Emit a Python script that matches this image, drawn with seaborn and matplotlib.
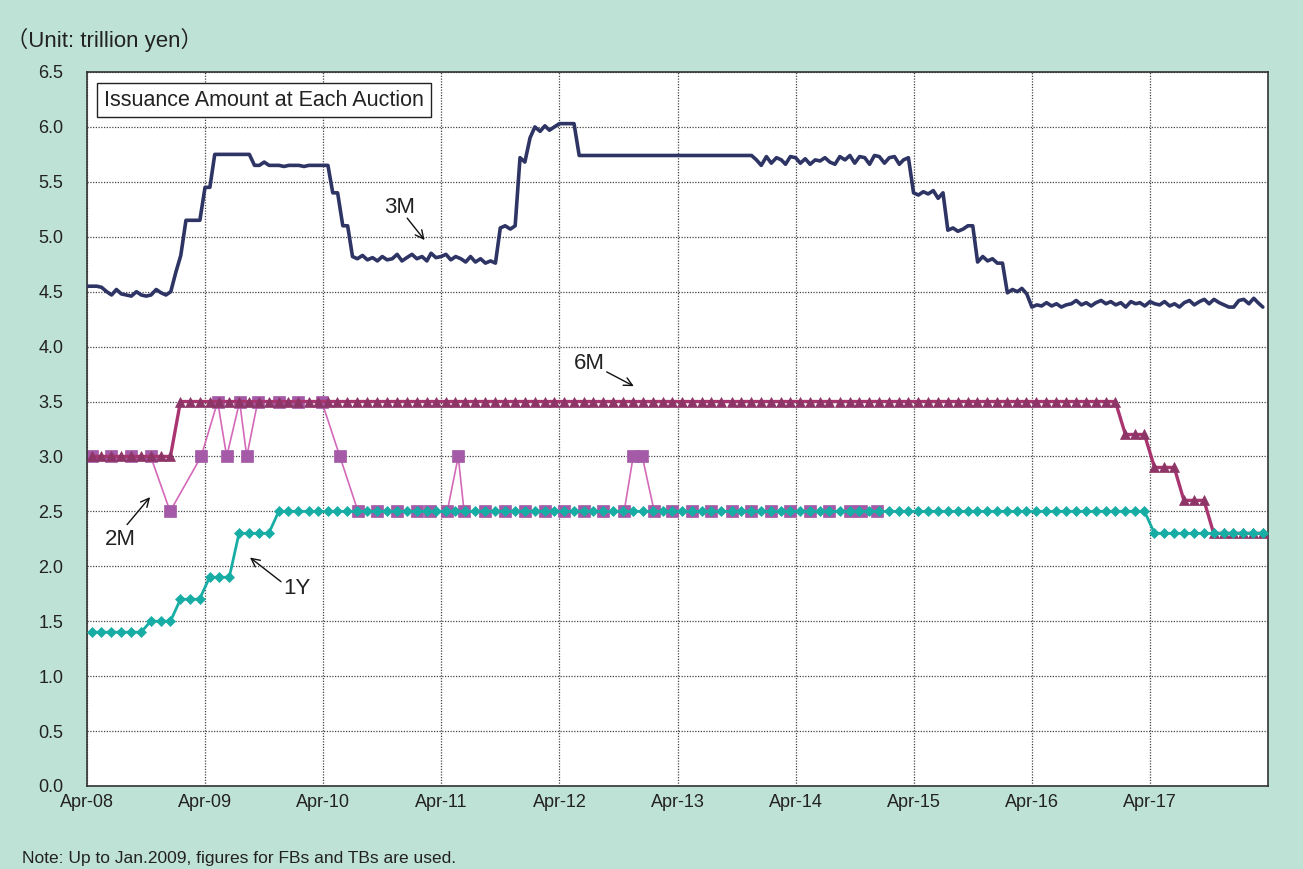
import numpy as np
import pandas as pd
import matplotlib
matplotlib.use("Agg")
import matplotlib.pyplot as plt
import matplotlib.dates as mdates
import seaborn as sns

# 3M: two readings per month (1st / 16th), fiscal years Apr..Mar
fy08_3m = [4.55, 4.55, 4.55, 4.54, 4.50, 4.47, 4.52, 4.48, 4.47, 4.46, 4.50, 4.47,
           4.46, 4.47, 4.52, 4.49, 4.47, 4.50, 4.68, 4.83, 5.15, 5.15, 5.15, 5.15]
fy09_3m = [5.45, 5.45, 5.75, 5.75, 5.75, 5.75, 5.75, 5.75, 5.75, 5.75, 5.65, 5.65,
           5.68, 5.65, 5.65, 5.65, 5.64, 5.65, 5.65, 5.65, 5.64, 5.65, 5.65, 5.65]
fy10_3m = [5.65, 5.65, 5.40, 5.40, 5.10, 5.10, 4.82, 4.80, 4.83, 4.79, 4.81, 4.78,
           4.82, 4.79, 4.80, 4.84, 4.78, 4.81, 4.84, 4.80, 4.82, 4.78, 4.85, 4.81]
fy11_3m = [4.82, 4.84, 4.79, 4.82, 4.80, 4.77, 4.82, 4.77, 4.80, 4.76, 4.78, 4.76,
           5.08, 5.10, 5.07, 5.10, 5.72, 5.68, 5.90, 6.00, 5.96, 6.01, 5.97, 6.00]
fy12_3m = [6.03, 6.03, 6.03, 6.03, 5.74, 5.74, 5.74, 5.74, 5.74, 5.74, 5.74, 5.74,
           5.74, 5.74, 5.74, 5.74, 5.74, 5.74, 5.74, 5.74, 5.74, 5.74, 5.74, 5.74]
fy13_3m = [5.74, 5.74, 5.74, 5.74, 5.74, 5.74, 5.74, 5.74, 5.74, 5.74, 5.74, 5.74,
           5.74, 5.74, 5.74, 5.74, 5.70, 5.65, 5.73, 5.67, 5.72, 5.70, 5.66, 5.73]
fy14_3m = [5.72, 5.67, 5.71, 5.66, 5.70, 5.69, 5.72, 5.68, 5.66, 5.73, 5.70, 5.74,
           5.67, 5.73, 5.72, 5.66, 5.74, 5.73, 5.67, 5.72, 5.73, 5.66, 5.70, 5.72]
fy15_3m = [5.40, 5.38, 5.41, 5.39, 5.42, 5.35, 5.40, 5.06, 5.08, 5.05, 5.07, 5.10,
           5.10, 4.77, 4.82, 4.78, 4.80, 4.76, 4.76, 4.49, 4.52, 4.50, 4.53, 4.48]
fy16_3m = [4.36, 4.38, 4.37, 4.40, 4.37, 4.39, 4.36, 4.38, 4.39, 4.42, 4.38, 4.40,
           4.37, 4.40, 4.42, 4.39, 4.41, 4.38, 4.40, 4.36, 4.41, 4.39, 4.40, 4.37]
fy17_3m = [4.41, 4.39, 4.38, 4.41, 4.37, 4.39, 4.36, 4.40, 4.42, 4.38, 4.41, 4.43,
           4.39, 4.43, 4.40, 4.38, 4.36, 4.36, 4.42, 4.43, 4.39, 4.44, 4.40, 4.36]

# monthly series (mid-month), fiscal years Apr..Mar
six_m = [3.0, 3.0, 3.0, 3.0, 3.0, 3.0, 3.0, 3.0, 3.0, 3.5, 3.5, 3.5,
         3.5, 3.5, 3.5, 3.5, 3.5, 3.5, 3.5, 3.5, 3.5, 3.5, 3.5, 3.5,
         3.5, 3.5, 3.5, 3.5, 3.5, 3.5, 3.5, 3.5, 3.5, 3.5, 3.5, 3.5,
         3.5, 3.5, 3.5, 3.5, 3.5, 3.5, 3.5, 3.5, 3.5, 3.5, 3.5, 3.5,
         3.5, 3.5, 3.5, 3.5, 3.5, 3.5, 3.5, 3.5, 3.5, 3.5, 3.5, 3.5,
         3.5, 3.5, 3.5, 3.5, 3.5, 3.5, 3.5, 3.5, 3.5, 3.5, 3.5, 3.5,
         3.5, 3.5, 3.5, 3.5, 3.5, 3.5, 3.5, 3.5, 3.5, 3.5, 3.5, 3.5,
         3.5, 3.5, 3.5, 3.5, 3.5, 3.5, 3.5, 3.5, 3.5, 3.5, 3.5, 3.5,
         3.5, 3.5, 3.5, 3.5, 3.5, 3.5, 3.5, 3.5, 3.5, 3.2, 3.2, 3.2,
         2.9, 2.9, 2.9, 2.6, 2.6, 2.6, 2.3, 2.3, 2.3, 2.3, 2.3, 2.3]

one_y = [1.4, 1.4, 1.4, 1.4, 1.4, 1.4, 1.5, 1.5, 1.5, 1.7, 1.7, 1.7,
         1.9, 1.9, 1.9, 2.3, 2.3, 2.3, 2.3, 2.5, 2.5, 2.5, 2.5, 2.5,
         2.5, 2.5, 2.5, 2.5, 2.5, 2.5, 2.5, 2.5, 2.5, 2.5, 2.5, 2.5,
         2.5, 2.5, 2.5, 2.5, 2.5, 2.5, 2.5, 2.5, 2.5, 2.5, 2.5, 2.5,
         2.5, 2.5, 2.5, 2.5, 2.5, 2.5, 2.5, 2.5, 2.5, 2.5, 2.5, 2.5,
         2.5, 2.5, 2.5, 2.5, 2.5, 2.5, 2.5, 2.5, 2.5, 2.5, 2.5, 2.5,
         2.5, 2.5, 2.5, 2.5, 2.5, 2.5, 2.5, 2.5, 2.5, 2.5, 2.5, 2.5,
         2.5, 2.5, 2.5, 2.5, 2.5, 2.5, 2.5, 2.5, 2.5, 2.5, 2.5, 2.5,
         2.5, 2.5, 2.5, 2.5, 2.5, 2.5, 2.5, 2.5, 2.5, 2.5, 2.5, 2.5,
         2.3, 2.3, 2.3, 2.3, 2.3, 2.3, 2.3, 2.3, 2.3, 2.3, 2.3, 2.3]

# 2M: irregular auctions
two_m_dates = ["2008-04-15", "2008-06-15", "2008-08-15", "2008-10-15", "2008-12-14",
               "2009-03-20", "2009-05-10", "2009-06-07", "2009-07-17", "2009-08-08",
               "2009-09-11", "2009-11-15", "2010-01-15", "2010-03-28", "2010-05-23",
               "2010-07-18", "2010-09-15", "2010-11-15", "2011-01-15", "2011-02-25",
               "2011-04-20", "2011-05-24", "2011-06-11", "2011-08-15", "2011-10-15",
               "2011-12-15", "2012-02-15", "2012-04-15", "2012-06-15", "2012-08-15",
               "2012-10-18", "2012-11-15", "2012-12-13", "2013-01-19", "2013-03-15",
               "2013-05-15", "2013-07-15", "2013-09-15", "2013-11-15", "2014-01-15",
               "2014-03-15", "2014-05-15", "2014-07-15", "2014-09-15", "2014-10-20",
               "2014-12-10"]
two_m = [3.0, 3.0, 3.0, 3.0, 2.5,
         3.0, 3.5, 3.0, 3.5, 3.0,
         3.5, 3.5, 3.5, 3.5, 3.0,
         2.5, 2.5, 2.5, 2.5, 2.5,
         2.5, 3.0, 2.5, 2.5, 2.5,
         2.5, 2.5, 2.5, 2.5, 2.5,
         2.5, 3.0, 3.0, 2.5, 2.5,
         2.5, 2.5, 2.5, 2.5, 2.5,
         2.5, 2.5, 2.5, 2.5, 2.5,
         2.5]

year_labels = ["Apr-08", "Apr-09", "Apr-10", "Apr-11", "Apr-12",
               "Apr-13", "Apr-14", "Apr-15", "Apr-16", "Apr-17"]

BG = "#bfe2d6"
C3M = "#2e3464"
C6M_LINE = "#a8356f"
C6M_MK = "#8d3566"
C2M_LINE = "#d469b9"
C2M_MK = "#a45aa7"
C1Y = "#17ada4"

months = pd.date_range("2008-04-01", "2018-03-01", freq="MS")
mid = months + pd.Timedelta(days=14)
half = sorted(list(months) + list(months + pd.Timedelta(days=15)))
v3m = np.concatenate([fy08_3m, fy09_3m, fy10_3m, fy11_3m, fy12_3m,
                      fy13_3m, fy14_3m, fy15_3m, fy16_3m, fy17_3m])

df3m = pd.DataFrame({"date": half, "v": v3m})
df6m = pd.DataFrame({"date": mid, "v": six_m})
df1y = pd.DataFrame({"date": mid, "v": one_y})
df2m = pd.DataFrame({"date": pd.to_datetime(two_m_dates), "v": two_m})

sns.set_style("white")
plt.rcParams["font.family"] = ["Liberation Sans", "DejaVu Sans"]

fig = plt.figure(figsize=(13.03, 8.69), dpi=100, facecolor=BG)
ax = fig.add_axes([87 / 1303, 1 - 786 / 869, 1181 / 1303, 714 / 869])
ax.set_facecolor("white")

sns.lineplot(data=df2m, x="date", y="v", ax=ax, color=C2M_LINE, lw=1.2,
             marker="s", markersize=8, markerfacecolor=C2M_MK,
             markeredgecolor=C2M_MK, markeredgewidth=0.5, zorder=2)
sns.lineplot(data=df6m, x="date", y="v", ax=ax, color=C6M_LINE, lw=2.4,
             marker="^", markersize=7.5, markerfacecolor=C6M_MK,
             markeredgecolor=C6M_MK, markeredgewidth=0.5, zorder=3)
sns.lineplot(data=df1y, x="date", y="v", ax=ax, color=C1Y, lw=2.0,
             marker="D", markersize=5.5, markerfacecolor=C1Y,
             markeredgecolor=C1Y, markeredgewidth=0.5, zorder=4)
sns.lineplot(data=df3m, x="date", y="v", ax=ax, color=C3M, lw=2.6, zorder=5)

d = lambda s: mdates.date2num(pd.Timestamp(s))
arrow = dict(arrowstyle="->,head_length=0.6,head_width=0.3", color="#111",
             lw=1.0, shrinkA=0, shrinkB=0)
labels = [("3M", "2010-11-25", 5.27, "2010-12-17", 5.17, "2011-02-09", 4.97),
          ("6M", "2012-07-04", 3.85, "2012-08-25", 3.77, "2012-11-17", 3.64),
          ("2M", "2008-07-12", 2.24, "2008-08-03", 2.38, "2008-10-13", 2.63),
          ("1Y", "2010-01-10", 1.80, "2009-11-22", 1.86, "2009-08-18", 2.08)]
for txt, tx, ty, ax0, ay0, ax1, ay1 in labels:
    ax.text(d(tx), ty, txt, fontsize=16, ha="center", va="center", color="#222", zorder=6)
    ax.annotate("", xy=(d(ax1), ay1), xytext=(d(ax0), ay0), arrowprops=arrow, zorder=6)

ax.text(17 / 1181, 1 - 28 / 714, "Issuance Amount at Each Auction", transform=ax.transAxes,
        fontsize=15.5, ha="left", va="center", color="#222", zorder=7,
        bbox=dict(boxstyle="square,pad=0.32", facecolor="white", edgecolor="#222", lw=1.0))

ax.set_xlim(d("2008-04-01"), d("2018-04-01"))
ax.set_ylim(0, 6.5)
ax.set_xticks([d(f"{y}-04-01") for y in range(2008, 2018)])
ax.set_xticklabels(year_labels)
yt = np.arange(0, 6.51, 0.5)
ax.set_yticks(yt)
ax.set_yticklabels([f"{v:.1f}" for v in yt])
ax.tick_params(axis="y", length=0, labelsize=13, pad=17, colors="#222")
ax.tick_params(axis="x", length=0, labelsize=13, pad=6, colors="#222")
ax.set_xlabel("")
ax.set_ylabel("")
ax.grid(True, color="#444", linestyle=(0, (1, 1.2)), linewidth=0.9)
ax.set_axisbelow(True)
for sp in ax.spines.values():
    sp.set_visible(True)
    sp.set_color("#333")
    sp.set_linewidth(1.2)

fig.text(6 / 1303, 1 - 40 / 869, "（Unit: trillion yen）", fontsize=16, ha="left",
         va="center", color="#222", family=["Liberation Sans", "Noto Sans CJK JP"])
fig.text(22 / 1303, 1 - 858 / 869, "Note: Up to Jan.2009, figures for FBs and TBs are used.",
         fontsize=12.5, ha="left", va="center", color="#222")

fig.savefig("out.png", dpi=100, facecolor=BG)
